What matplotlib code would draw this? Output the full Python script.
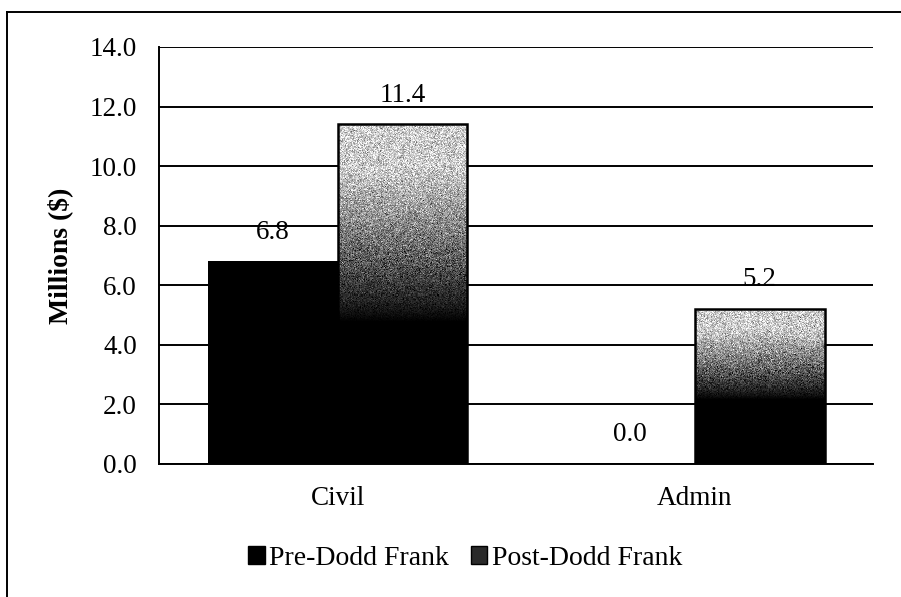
import numpy as np
import matplotlib.pyplot as plt
from matplotlib.patches import Patch
from matplotlib.lines import Line2D

plt.rcParams['font.family'] = ['Liberation Serif', 'DejaVu Serif']

# data
categories = ['Civil', 'Admin']
pre_dodd_frank = [6.8, 0.0]
post_dodd_frank = [11.4, 5.2]
series_names = ['Pre-Dodd Frank', 'Post-Dodd Frank']

fig = plt.figure(figsize=(9.01, 5.97), dpi=100)
ax = fig.add_axes([0.1765, 0.2228, 0.7925, 0.6985])

x = np.arange(len(categories))
width = 0.364
fs = 19.5

ax.set_yticks(np.arange(0, 14.1, 2))
ax.set_yticklabels(['%.1f' % v for v in np.arange(0, 14.1, 2)])
ax.set_xticks(x)
ax.set_xticklabels(categories)
ax.tick_params(axis='both', length=0, labelsize=fs)
ax.tick_params(axis='y', pad=16)
ax.tick_params(axis='x', pad=16)

# black horizontal gridlines
ax.yaxis.grid(True, color='black', linewidth=1.4)
ax.set_axisbelow(True)
for side in ['top', 'right']:
    ax.spines[side].set_visible(False)
ax.spines['left'].set_linewidth(1.4)
ax.spines['bottom'].set_linewidth(1.4)

ax.set_ylabel('Millions ($)', fontsize=20, fontweight='bold', labelpad=12)

# pre bars: solid black
pre_bars = ax.bar(x - width / 2, pre_dodd_frank, width, color='black', zorder=3)

# post bars: speckled gradient, black at the bottom to light gray at the top
post_bars = ax.bar(x + width / 2, post_dodd_frank, width, facecolor='none',
                   edgecolor='black', linewidth=1.8, zorder=5)
rng = np.random.default_rng(3)
for rect in post_bars:
    x0 = rect.get_x()
    h = rect.get_height()
    npx = max(int(h / 14 * 417), 2)
    t = np.linspace(1, 0, npx).reshape(-1, 1)
    shade = np.clip((t - 0.42) / 0.45, 0, 1) ** 0.9 * 0.80
    amp = np.clip(shade / 0.35, 0, 1) * 0.14
    tex = np.clip(shade + rng.normal(0, 1, (npx, 130)) * amp, 0, 1)
    im = ax.imshow(tex, cmap='gray', vmin=0, vmax=1, aspect='auto',
                   extent=(x0, x0 + rect.get_width(), 0, h), zorder=4,
                   interpolation='nearest')
    im.set_clip_path(rect)

ax.set_xlim(-0.5, len(categories) - 0.5)
ax.set_ylim(0, 14)

# value labels
for bars, vals in [(pre_bars, pre_dodd_frank), (post_bars, post_dodd_frank)]:
    for rect, v in zip(bars, vals):
        ax.annotate('%.1f' % v, (rect.get_x() + rect.get_width() / 2, v),
                    xytext=(0, 21), textcoords='offset points',
                    ha='center', va='center', fontsize=fs, zorder=6)

# legend
handles = [Patch(facecolor='black', edgecolor='black'),
           Patch(facecolor='#2a2a2a', edgecolor='black')]
fig.legend(handles, series_names, loc='center', bbox_to_anchor=(0.516, 0.065),
           ncol=2, frameon=False, fontsize=20, handlelength=0.6,
           handleheight=0.6, handletextpad=0.15, columnspacing=0.8)

# outer frame (left and top edges)
fig.add_artist(Line2D([7 / 901, 7 / 901], [0, 1 - 12 / 597], color='black',
                      linewidth=1.4, transform=fig.transFigure))
fig.add_artist(Line2D([7 / 901, 1], [1 - 12 / 597, 1 - 12 / 597], color='black',
                      linewidth=1.4, transform=fig.transFigure))

fig.savefig('out.png', dpi=100)
